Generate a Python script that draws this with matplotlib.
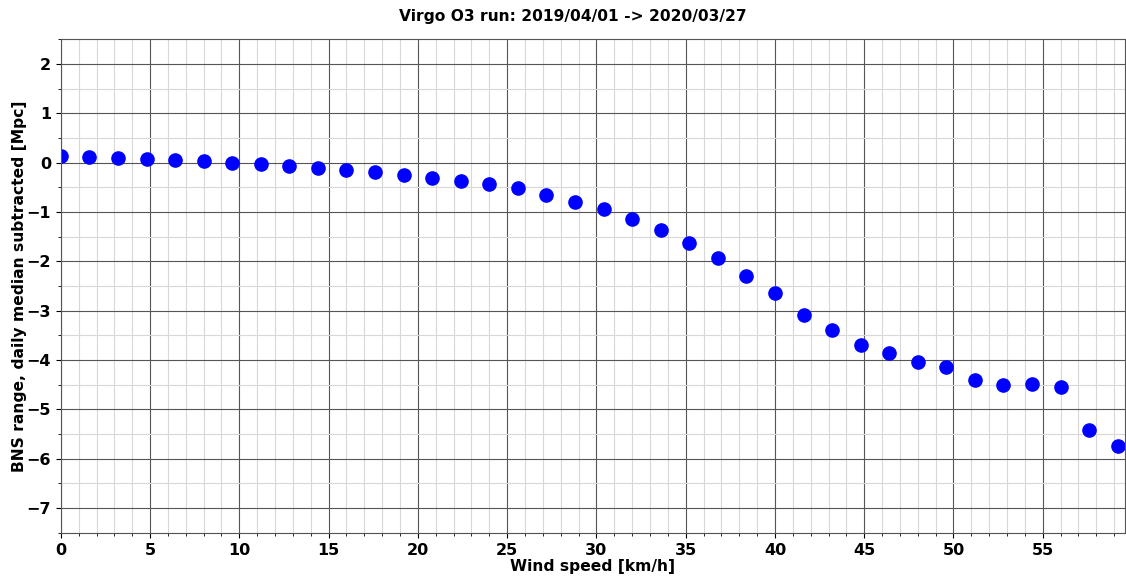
import matplotlib.pyplot as plt
from matplotlib.ticker import MultipleLocator

wind_speed = [0.0, 1.6, 3.2, 4.8, 6.4, 8.0, 9.6, 11.2, 12.8, 14.4, 16.0, 17.6, 19.2,
              20.8, 22.4, 24.0, 25.6, 27.2, 28.8, 30.4, 32.0, 33.6, 35.2, 36.8, 38.4,
              40.0, 41.6, 43.2, 44.8, 46.4, 48.0, 49.6, 51.2, 52.8, 54.4, 56.0, 57.6, 59.2]
bns_range = [0.13, 0.11, 0.09, 0.08, 0.06, 0.03, 0.0, -0.03, -0.06, -0.1, -0.15, -0.2,
             -0.26, -0.32, -0.37, -0.43, -0.52, -0.65, -0.79, -0.95, -1.15, -1.36, -1.63,
             -1.94, -2.3, -2.65, -3.09, -3.39, -3.69, -3.86, -4.04, -4.14, -4.4, -4.51,
             -4.48, -4.54, -5.41, -5.75]

fig = plt.figure(figsize=(11.26, 5.76), dpi=100)
ax = fig.add_axes([0.054, 0.075, 0.945, 0.857])
ax.plot(wind_speed, bns_range, 'o', color='blue', markersize=9.5)

ax.set_xlim(0, 59.6)
ax.set_ylim(-7.5, 2.5)
ax.xaxis.set_major_locator(MultipleLocator(5))
ax.xaxis.set_minor_locator(MultipleLocator(1))
ax.yaxis.set_major_locator(MultipleLocator(1))
ax.yaxis.set_minor_locator(MultipleLocator(0.5))
ax.grid(which='major', color='#555555', linewidth=0.8)
ax.grid(which='minor', color='#d8d8d8', linewidth=0.8)
ax.set_axisbelow(True)
for s in ax.spines.values():
    s.set_color('#555555')

for lab in ax.get_xticklabels() + ax.get_yticklabels():
    lab.set_fontweight('bold')
ax.tick_params(labelsize=11.5)
ax.set_xlabel('Wind speed [km/h]', fontsize=11.2, fontweight='bold', labelpad=1)
ax.set_ylabel('BNS range, daily median subtracted [Mpc]', fontsize=11.2, fontweight='bold',
              labelpad=0)
fig.suptitle('Virgo O3 run: 2019/04/01 -> 2020/03/27', fontsize=11.2, fontweight='bold',
             x=0.509, y=0.985)

plt.savefig('out.png')
